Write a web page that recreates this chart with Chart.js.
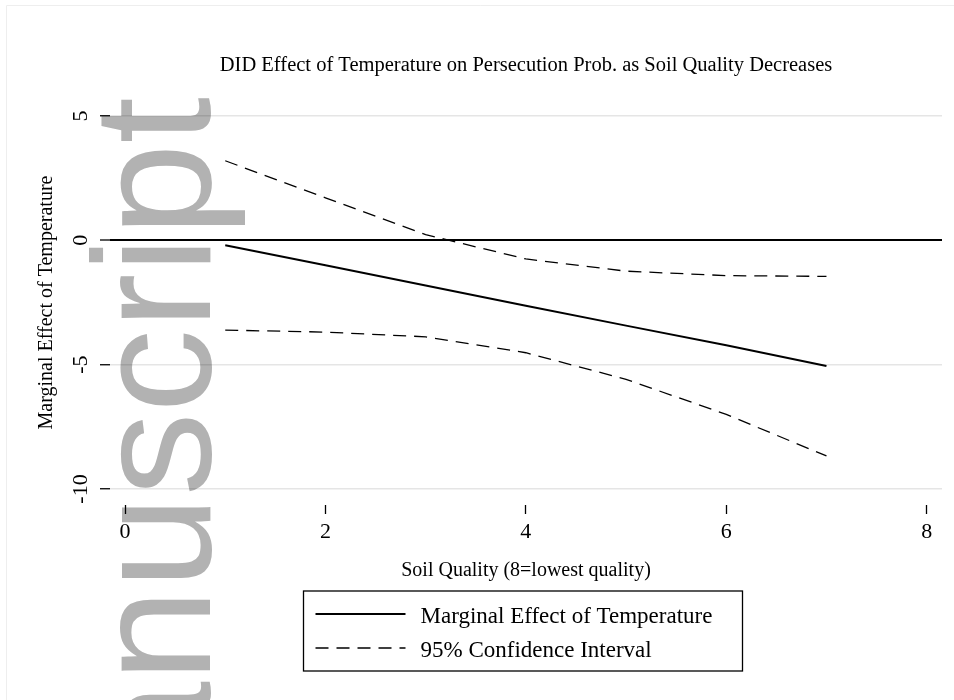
<!DOCTYPE html>
<html lang="en">
  <head>
    <meta charset="utf-8" />
    <title>DID Effect of Temperature</title>
    <style>
      body {
        margin: 0;
        background-color: white;
      }
    </style>
  </head>
  <body>
    <canvas id="chart" width="954" height="700"></canvas>
    <script src="https://cdn.jsdelivr.net/npm/chart.js"></script>
    <script>
      const soilQuality = [1, 2, 3, 4, 5, 6, 7];
      const marginalEffect = [-0.2, -1.0, -1.82, -2.63, -3.43, -4.22, -5.05];
      const ciUpper = [3.2, 1.71, 0.23, -0.75, -1.24, -1.42, -1.45];
      const ciLower = [-3.61, -3.69, -3.88, -4.52, -5.59, -7.0, -8.67];

      const yTicks = [-10, -5, 0, 5];
      const xTicks = [0, 2, 4, 6, 8];

      const chartTitle = "DID Effect of Temperature on Persecution Prob. as Soil Quality Decreases";

      const serif = "'Liberation Serif', 'Times New Roman', serif";

      const points = (ys) => soilQuality.map((x, i) => ({ x, y: ys[i] }));

      // page frame + grey watermark, drawn under everything
      const backdrop = {
        id: "backdrop",
        beforeDraw(chart) {
          const ctx = chart.ctx;
          ctx.save();
          ctx.fillStyle = "white";
          ctx.fillRect(0, 0, chart.width, chart.height);
          ctx.strokeStyle = "#eeeeee";
          ctx.lineWidth = 1;
          ctx.beginPath();
          ctx.moveTo(6.5, chart.height);
          ctx.lineTo(6.5, 5.5);
          ctx.lineTo(chart.width, 5.5);
          ctx.stroke();

          ctx.translate(210, 97);
          ctx.rotate(-Math.PI / 2);
          ctx.font = "167px 'Liberation Sans', Arial, sans-serif";
          ctx.fillStyle = "#b2b2b2";
          ctx.textAlign = "right";
          ctx.textBaseline = "alphabetic";
          ctx.fillText("Manuscript", 0, 0);
          ctx.restore();
        },
      };

      // title centred over the plot region (stata style), plus boxed legend
      const titleAndLegend = {
        id: "titleAndLegend",
        afterDraw(chart) {
          const ctx = chart.ctx;
          const area = chart.chartArea;
          const mid = (area.left + area.right) / 2;
          ctx.save();
          ctx.fillStyle = "#000";
          ctx.font = "20.5px " + serif;
          ctx.textAlign = "center";
          ctx.textBaseline = "middle";
          ctx.fillText(chartTitle, mid, 66);

          const w = 439;
          const h = 80;
          const left = mid - w / 2 - 3;
          const top = 591;
          ctx.strokeStyle = "#000";
          ctx.lineWidth = 1.3;
          ctx.setLineDash([]);
          ctx.strokeRect(left, top, w, h);

          const items = chart.data.datasets.filter((d) => !d.noLegend);
          items.forEach((d, i) => {
            const y = top + 23 + i * 34;
            ctx.strokeStyle = d.borderColor;
            ctx.lineWidth = d.borderWidth;
            ctx.setLineDash(d.borderDash || []);
            ctx.beginPath();
            ctx.moveTo(left + 12, y);
            ctx.lineTo(left + 102, y);
            ctx.stroke();
            ctx.setLineDash([]);
            ctx.font = "23px " + serif;
            ctx.textAlign = "left";
            ctx.textBaseline = "middle";
            ctx.fillText(d.label, left + 117, y + 3);
          });
          ctx.restore();
        },
      };

      new Chart(document.getElementById("chart"), {
        type: "line",
        data: {
          datasets: [
            {
              label: "Marginal Effect of Temperature",
              data: points(marginalEffect),
              borderColor: "#000",
              borderWidth: 2,
              pointRadius: 0,
            },
            {
              label: "95% Confidence Interval",
              data: points(ciUpper),
              borderColor: "#000",
              borderWidth: 1.3,
              borderDash: [13, 8],
              pointRadius: 0,
            },
            {
              label: "95% Confidence Interval (lower)",
              data: points(ciLower),
              borderColor: "#000",
              borderWidth: 1.3,
              borderDash: [13, 8],
              pointRadius: 0,
              noLegend: true,
            },
          ],
        },
        options: {
          responsive: false,
          animation: false,
          layout: {
            padding: { left: 0, right: 12, top: 100, bottom: 110 },
          },
          plugins: {
            legend: { display: false },
            tooltip: { enabled: false },
            title: { display: false },
          },
          scales: {
            x: {
              type: "linear",
              min: -0.15,
              max: 8.153,
              border: { display: false },
              afterFit(scale) {
                scale.height = 85;
              },
              afterBuildTicks(scale) {
                scale.ticks = xTicks.map((value) => ({ value }));
              },
              grid: {
                drawOnChartArea: false,
                drawTicks: true,
                tickLength: 9,
                tickColor: "#000",
                tickWidth: 1.3,
              },
              ticks: {
                color: "#000",
                font: { family: serif, size: 22 },
                padding: 5,
                maxRotation: 0,
              },
              title: {
                display: true,
                text: "Soil Quality (8=lowest quality)",
                color: "#000",
                font: { family: serif, size: 20 },
                padding: { top: 0, bottom: 7 },
              },
            },
            y: {
              type: "linear",
              min: -10.643,
              max: 5.643,
              border: { display: false },
              afterFit(scale) {
                scale.width = 110;
              },
              afterBuildTicks(scale) {
                scale.ticks = yTicks.map((value) => ({ value }));
              },
              grid: {
                color: (c) => (c.tick && c.tick.value === 0 ? "#000" : "rgba(0,0,0,0.1)"),
                lineWidth: (c) => (c.tick && c.tick.value === 0 ? 2 : 1.5),
                tickLength: 10,
                tickColor: "#000",
                tickWidth: 1.3,
              },
              ticks: {
                color: "#000",
                font: { family: serif, size: 22 },
                padding: 4.5,
                minRotation: 90,
                maxRotation: 90,
                crossAlign: "center",
              },
              title: {
                display: true,
                text: "Marginal Effect of Temperature",
                color: "#000",
                font: { family: serif, size: 20 },
                padding: { top: 35, bottom: 0 },
              },
            },
          },
        },
        plugins: [backdrop, titleAndLegend],
      });
    </script>
  </body>
</html>
